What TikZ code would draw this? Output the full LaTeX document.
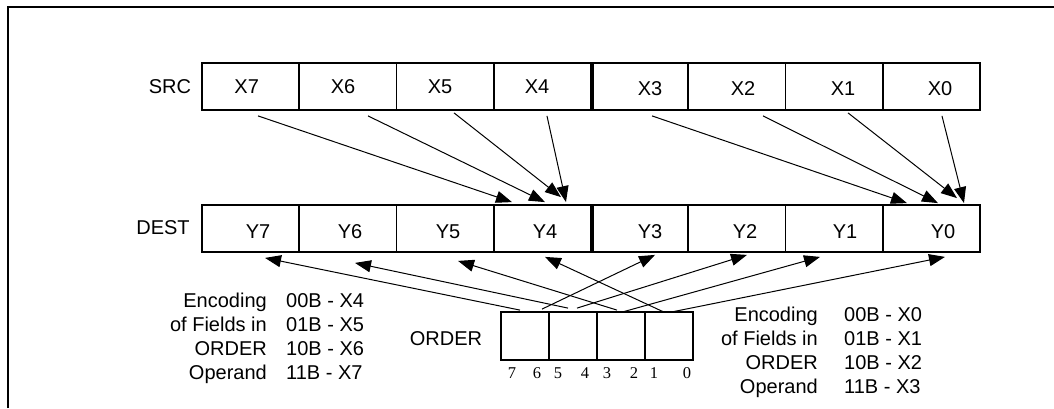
\documentclass[tikz,border=0pt]{standalone}
\usepackage{fontspec}
\setmainfont{Liberation Sans}
\newfontfamily\digitfont{Liberation Serif}
\usetikzlibrary{arrows.meta,calc}
\begin{document}
\begin{tikzpicture}[x=1pt,y=-1pt,
  cell/.style={draw,line width=1.8pt,minimum width=97.25pt,minimum height=47pt,inner sep=0pt},
  ocell/.style={draw,line width=1.8pt,minimum width=48pt,minimum height=48pt,inner sep=0pt},
  lbl/.style={inner sep=0pt,font=\fontsize{20}{24}\selectfont},
  bit/.style={inner sep=0pt,font=\digitfont\fontsize{16.5}{18}\selectfont},
  arr/.style={line width=1pt,-{Triangle[length=16pt,width=12pt]}},
  frame/.style={line width=2pt}]
\useasboundingbox (0,0) rectangle (1054,408);
\draw[frame] (8,408) -- (8,7) -- (1054,7);

% SRC row
\node[cell] (s7) at (250.625,86.5) {};
\node[cell] (s6) at (347.875,86.5) {};
\node[cell] (s5) at (445.125,86.5) {};
\node[cell] (s4) at (542.375,86.5) {};
\node[cell] (s3) at (639.625,86.5) {};
\node[cell] (s2) at (736.875,86.5) {};
\node[cell] (s1) at (834.125,86.5) {};
\node[cell] (s0) at (931.375,86.5) {};
\draw[line width=4pt] (s4.north east) -- (s4.south east);
% DEST row
\node[cell] (d7) at (250.625,228.5) {};
\node[cell] (d6) at (347.875,228.5) {};
\node[cell] (d5) at (445.125,228.5) {};
\node[cell] (d4) at (542.375,228.5) {};
\node[cell] (d3) at (639.625,228.5) {};
\node[cell] (d2) at (736.875,228.5) {};
\node[cell] (d1) at (834.125,228.5) {};
\node[cell] (d0) at (931.375,228.5) {};
\draw[line width=4pt] (d4.north east) -- (d4.south east);

% row labels
\node[lbl] (srclbl) at (170,86.5) {SRC};
\node[lbl] (destlbl) at (163,228) {DEST};
% cell texts
\node[lbl] (tx7) at (246.7,86.7) {X7};
\node[lbl] (tx6) at (343,86.7) {X6};
\node[lbl] (tx5) at (440,86.7) {X5};
\node[lbl] (tx4) at (537,86.7) {X4};
\node[lbl] (tx3) at (650,88.5) {X3};
\node[lbl] (tx2) at (743,88.5) {X2};
\node[lbl] (tx1) at (843,88.5) {X1};
\node[lbl] (tx0) at (940,88.5) {X0};
\node[lbl] (ty7) at (258,232) {Y7};
\node[lbl] (ty6) at (350,232) {Y6};
\node[lbl] (ty5) at (448,232) {Y5};
\node[lbl] (ty4) at (545,232) {Y4};
\node[lbl] (ty3) at (650,232) {Y3};
\node[lbl] (ty2) at (745,232) {Y2};
\node[lbl] (ty1) at (845,232) {Y1};
\node[lbl] (ty0) at (943,232) {Y0};

% ORDER operand
\node[ocell] (oa) at (525,336) {};
\node[ocell] (ob) at (573,336) {};
\node[ocell] (oc) at (621,336) {};
\node[ocell] (od) at (669,336) {};
\node[lbl] (orderlbl) at (446,339) {ORDER};
\node[bit] (b7) at (512,373) {7};
\node[bit] (b6) at (537,373) {6};
\node[bit] (b5) at (558,373) {5};
\node[bit] (b4) at (585,373) {4};
\node[bit] (b3) at (607,373) {3};
\node[bit] (b2) at (634,373) {2};
\node[bit] (b1) at (654,373) {1};
\node[bit] (b0) at (687,373) {0};

% encoding texts, left
\node[lbl,anchor=base east] (le1) at (267,307) {Encoding};
\node[lbl,anchor=base east] (le2) at (267,331) {of Fields in};
\node[lbl,anchor=base east] (le3) at (267,355) {ORDER};
\node[lbl,anchor=base east] (le4) at (267,379) {Operand};
\node[lbl,anchor=base west] (lv1) at (286,307) {00B - X4};
\node[lbl,anchor=base west] (lv2) at (286,331) {01B - X5};
\node[lbl,anchor=base west] (lv3) at (286,355) {10B - X6};
\node[lbl,anchor=base west] (lv4) at (286,379) {11B - X7};
% encoding texts, right
\node[lbl,anchor=base east] (re1) at (818,321) {Encoding};
\node[lbl,anchor=base east] (re2) at (818,345) {of Fields in};
\node[lbl,anchor=base east] (re3) at (818,369) {ORDER};
\node[lbl,anchor=base east] (re4) at (818,393) {Operand};
\node[lbl,anchor=base west] (rv1) at (844,321) {00B - X0};
\node[lbl,anchor=base west] (rv2) at (844,345) {01B - X1};
\node[lbl,anchor=base west] (rv3) at (844,369) {10B - X2};
\node[lbl,anchor=base west] (rv4) at (844,393) {11B - X3};

% SRC -> DEST arrows
\draw[arr] ($(s7.south)+(7.4,5)$) -- ($(d4.north)+(-30.4,-2)$);
\draw[arr] ($(s6.south)+(20.1,5)$) -- ($(d4.north)+(2.6,-2)$);
\draw[arr] ($(s5.south)+(8.9,2)$) -- ($(d4.north)+(18.6,-7)$);
\draw[arr] ($(s4.south)+(4.6,5)$) -- ($(d4.north)+(23.6,-2)$);
\draw[arr] ($(s3.south)+(12.4,5)$) -- ($(d0.north)+(-24.4,-1)$);
\draw[arr] ($(s2.south)+(26.1,5)$) -- ($(d0.north)+(6.6,-1)$);
\draw[arr] ($(s1.south)+(13.9,2)$) -- ($(d0.north)+(25.6,-6)$);
\draw[arr] ($(s0.south)+(10.6,5)$) -- ($(d0.north)+(32.6,-1)$);

% ORDER -> DEST arrows
\draw[arr] ($(oa.north)+(-5,-1)$) -- ($(d7.south)+(14.4,5)$);
\draw[arr] ($(ob.north)+(-5,-3)$) -- ($(d6.south)+(7.1,10)$);
\draw[arr] ($(oc.north)+(-4,-1)$) -- ($(d5.south)+(12.9,8)$);
\draw[arr] ($(od.north)+(-5,1)$) -- ($(d4.south)+(2.6,4)$);
\draw[arr] ($(oa.north)+(17,-2)$) -- ($(d3.south)+(15.4,2)$);
\draw[arr] ($(ob.north)+(4,-3)$) -- ($(d2.south)+(10.1,2)$);
\draw[arr] ($(oc.north)+(1,1)$) -- ($(d1.south)+(-14.1,4)$);
\draw[arr] ($(od.north)+(2,1)$) -- ($(d0.south)+(13.6,4)$);
\end{tikzpicture}
\end{document}
